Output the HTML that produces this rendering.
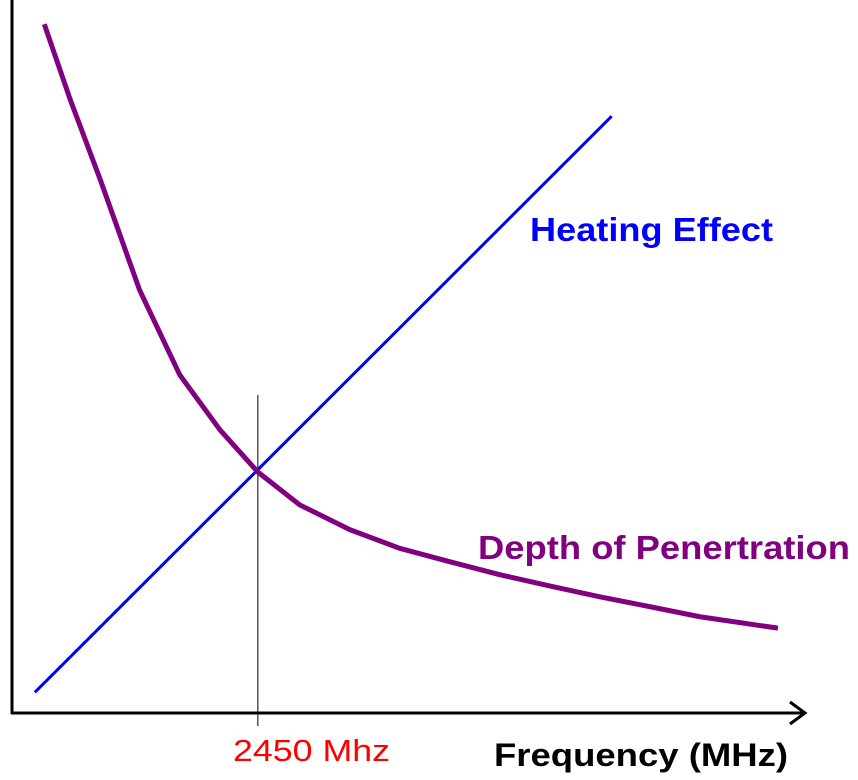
<!DOCTYPE html>
<html><head><meta charset="utf-8"><style>
html,body{margin:0;padding:0;background:#fff;}
svg{display:block;font-family:"Liberation Sans",sans-serif;}
</style></head><body>
<svg id="chart" width="858" height="780" viewBox="0 0 858 780">
<g id="axes">
<line x1="12" y1="0" x2="12" y2="714" stroke="#000" stroke-width="3"/>
<line x1="11" y1="713" x2="804" y2="713" stroke="#000" stroke-width="3"/>
<polyline points="790,702 805,713 790,724" fill="none" stroke="#000" stroke-width="3"/>
</g>
<g id="marks"></g>
<text x="530" y="241" font-size="33" font-weight="bold" fill="#0000ff" textLength="243" lengthAdjust="spacingAndGlyphs">Heating Effect</text>
<text x="478" y="559" font-size="33" font-weight="bold" fill="#800080" textLength="372" lengthAdjust="spacingAndGlyphs">Depth of Penertration</text>
<text x="233" y="761" font-size="31" fill="#ff0000" textLength="157" lengthAdjust="spacingAndGlyphs">2450 Mhz</text>
<text x="494" y="766" font-size="32" font-weight="bold" fill="#000" textLength="294" lengthAdjust="spacingAndGlyphs">Frequency (MHz)</text>
</svg>
<script>
const blueX = [2.9, 76.1];
const blueY = [2.9, 83.7];
const purpleX = [4.1,7.4,11.2,16.2,21.3,26.4,31.2,36.5,42.9,49.2,55.6,61.9,68.3,74.6,81.0,87.3,97.2];
const purpleY = [96.6,86.0,74.8,59.3,47.4,39.7,33.8,29.2,25.7,23.1,21.2,19.4,17.8,16.3,14.9,13.5,11.9];
const markerX = [31.2];

function xScale(v){return 12 + v*7.88;}
function yScale(v){return 713 - v*7.13;}
const NS='http://www.w3.org/2000/svg';
const g=document.getElementById('marks');

const m=document.createElementNS(NS,'line');


m.setAttribute('x1',xScale(markerX[0]));m.setAttribute('x2',xScale(markerX[0]));
m.setAttribute('y1',395);m.setAttribute('y2',726);
m.setAttribute('stroke','#000');m.setAttribute('stroke-width','1');
g.appendChild(m);

const b=document.createElementNS(NS,'polyline');


b.setAttribute('points',blueX.map((x,i)=>xScale(x)+','+yScale(blueY[i])).join(' '));
b.setAttribute('fill','none');b.setAttribute('stroke','#0000ff');b.setAttribute('stroke-width','3');
g.appendChild(b);

const p=document.createElementNS(NS,'polyline');


p.setAttribute('points',purpleX.map((x,i)=>xScale(x)+','+yScale(purpleY[i])).join(' '));
p.setAttribute('fill','none');p.setAttribute('stroke','#800080');p.setAttribute('stroke-width','5');
p.setAttribute('stroke-linejoin','round');
g.appendChild(p);
</script>
</body></html>
